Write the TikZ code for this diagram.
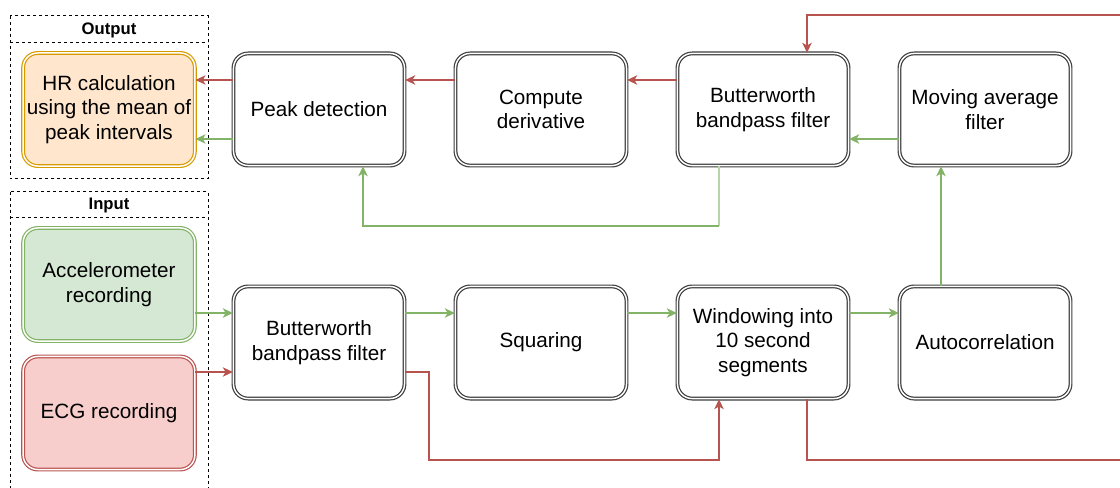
\documentclass[tikz,border=0pt]{standalone}
\usepackage{fontspec}
\setmainfont{Liberation Sans}
\usetikzlibrary{arrows.meta,calc}

\definecolor{redline}{HTML}{B85450}
\definecolor{redfill}{HTML}{F8CECC}
\definecolor{greenline}{HTML}{82B366}
\definecolor{greenfill}{HTML}{D5E8D4}
\definecolor{greenpale}{HTML}{B7D6A5}
\definecolor{orangeline}{HTML}{D79B00}
\definecolor{orangefill}{HTML}{FFE6CC}
\definecolor{boxline}{HTML}{3C3C3C}

\begin{document}
\begin{tikzpicture}[x=0.75pt,y=-0.75pt,
  box/.style={draw=boxline, double=white, double distance=1.1pt, line width=0.9pt,
    rounded corners=11pt, minimum width=128.3pt, minimum height=84.1pt,
    align=center, inner sep=2pt, font=\fontsize{15.5}{18.5}\selectfont},
  srcbox/.style={box, minimum width=128.8pt, minimum height=84.8pt},
  frame/.style={draw=black, line width=0.75pt, dash pattern=on 2.5pt off 2pt},
  frametitle/.style={font=\bfseries\fontsize{12.5}{15}\selectfont, inner sep=0pt},
  tip/.style={-{Stealth[length=7.5pt,width=7pt,inset=2pt]}},
  redarr/.style={draw=redline, line width=1.1pt, tip},
  greenarr/.style={draw=greenline, line width=1.1pt, tip},
  paleline/.style={draw=greenpale, line width=1.1pt}
]
\useasboundingbox (0,0) rectangle (1120,488);

% group frames
\draw[frame] (10,16) rectangle (208,179);
\draw[frame] (10,43) -- (208,43);
\node[frametitle] (outtitle) at (109,30) {Output};

\draw[frame] (10,192) rectangle (208,500);
\draw[frame] (10,218) -- (208,218);
\node[frametitle] (intitle) at (109,205) {Input};

% source and result boxes
\node[srcbox, draw=orangeline, fill=orangefill] (hr) at (109,109.5)
  {HR calculation\\using the mean of\\peak intervals};
\node[srcbox, draw=greenline, fill=greenfill] (acc) at (109,284.5)
  {Accelerometer\\recording};
\node[srcbox, draw=redline, fill=redfill] (ecg) at (109,413)
  {ECG recording};

% processing steps, upper row
\node[box] (peak) at (319,109.5) {Peak detection};
\node[box] (der)  at (541,109.5) {Compute\\derivative};
\node[box] (bwt)  at (763,109.5) {Butterworth\\bandpass filter};
\node[box] (mov)  at (985,109.5) {Moving average\\filter};

% processing steps, lower row
\node[box] (bwb)  at (319,342.5) {Butterworth\\bandpass filter};
\node[box] (sq)   at (541,342.5) {Squaring};
\node[box] (win)  at (763,342.5) {Windowing into\\10 second\\segments};
\node[box] (auto) at (985,342.5) {Autocorrelation};

% inputs into the lower filter
\coordinate (bwbA) at ([yshift=22.125pt]bwb.west);
\coordinate (bwbB) at ([yshift=-22.125pt]bwb.west);
\draw[greenarr] (acc.east |- bwbA) -- (bwbA);
\draw[redarr] (ecg.east |- bwbB) -- (bwbB);

% accelerometer chain
\draw[greenarr] ([yshift=22.125pt]bwb.east) -- ([yshift=22.125pt]sq.west);
\draw[greenarr] ([yshift=22.125pt]sq.east) -- ([yshift=22.125pt]win.west);
\draw[greenarr] ([yshift=22.125pt]win.east) -- ([yshift=22.125pt]auto.west);
\draw[greenarr] ([xshift=-33pt]auto.north) -- ([xshift=-33pt]mov.south);
\draw[greenarr] ([yshift=-22.125pt]mov.west) -- ([yshift=-22.125pt]bwt.east);
\coordinate (fbA) at ([xshift=-33pt]bwt.south);
\coordinate (fbB) at (fbA |- 0,226);
\draw[paleline] (fbA) -- (fbB);
\draw[greenarr] (fbB) -| ([xshift=33pt]peak.south);
\draw[greenarr] ([yshift=-22.125pt]peak.west) -- ([yshift=-22.125pt]hr.east);

% ECG chain
\coordinate (rA) at ([yshift=-22.125pt]bwb.east);
\coordinate (rB) at ([xshift=18pt]rA);
\draw[redarr] (rA) -- (rB) -- (rB |- 0,460) -| ([xshift=-33pt]win.south);
\coordinate (offLow) at (1130,460);
\coordinate (offTop) at (1130,15);
\draw[draw=redline, line width=1.1pt] ([xshift=33pt]win.south) |- (offLow);
\draw[redarr] (offTop) -| ([xshift=33pt]bwt.north);
\draw[redarr] ([yshift=22.125pt]bwt.west) -- ([yshift=22.125pt]der.east);
\draw[redarr] ([yshift=22.125pt]der.west) -- ([yshift=22.125pt]peak.east);
\draw[redarr] ([yshift=22.125pt]peak.west) -- ([yshift=22.125pt]hr.east);
\end{tikzpicture}
\end{document}
